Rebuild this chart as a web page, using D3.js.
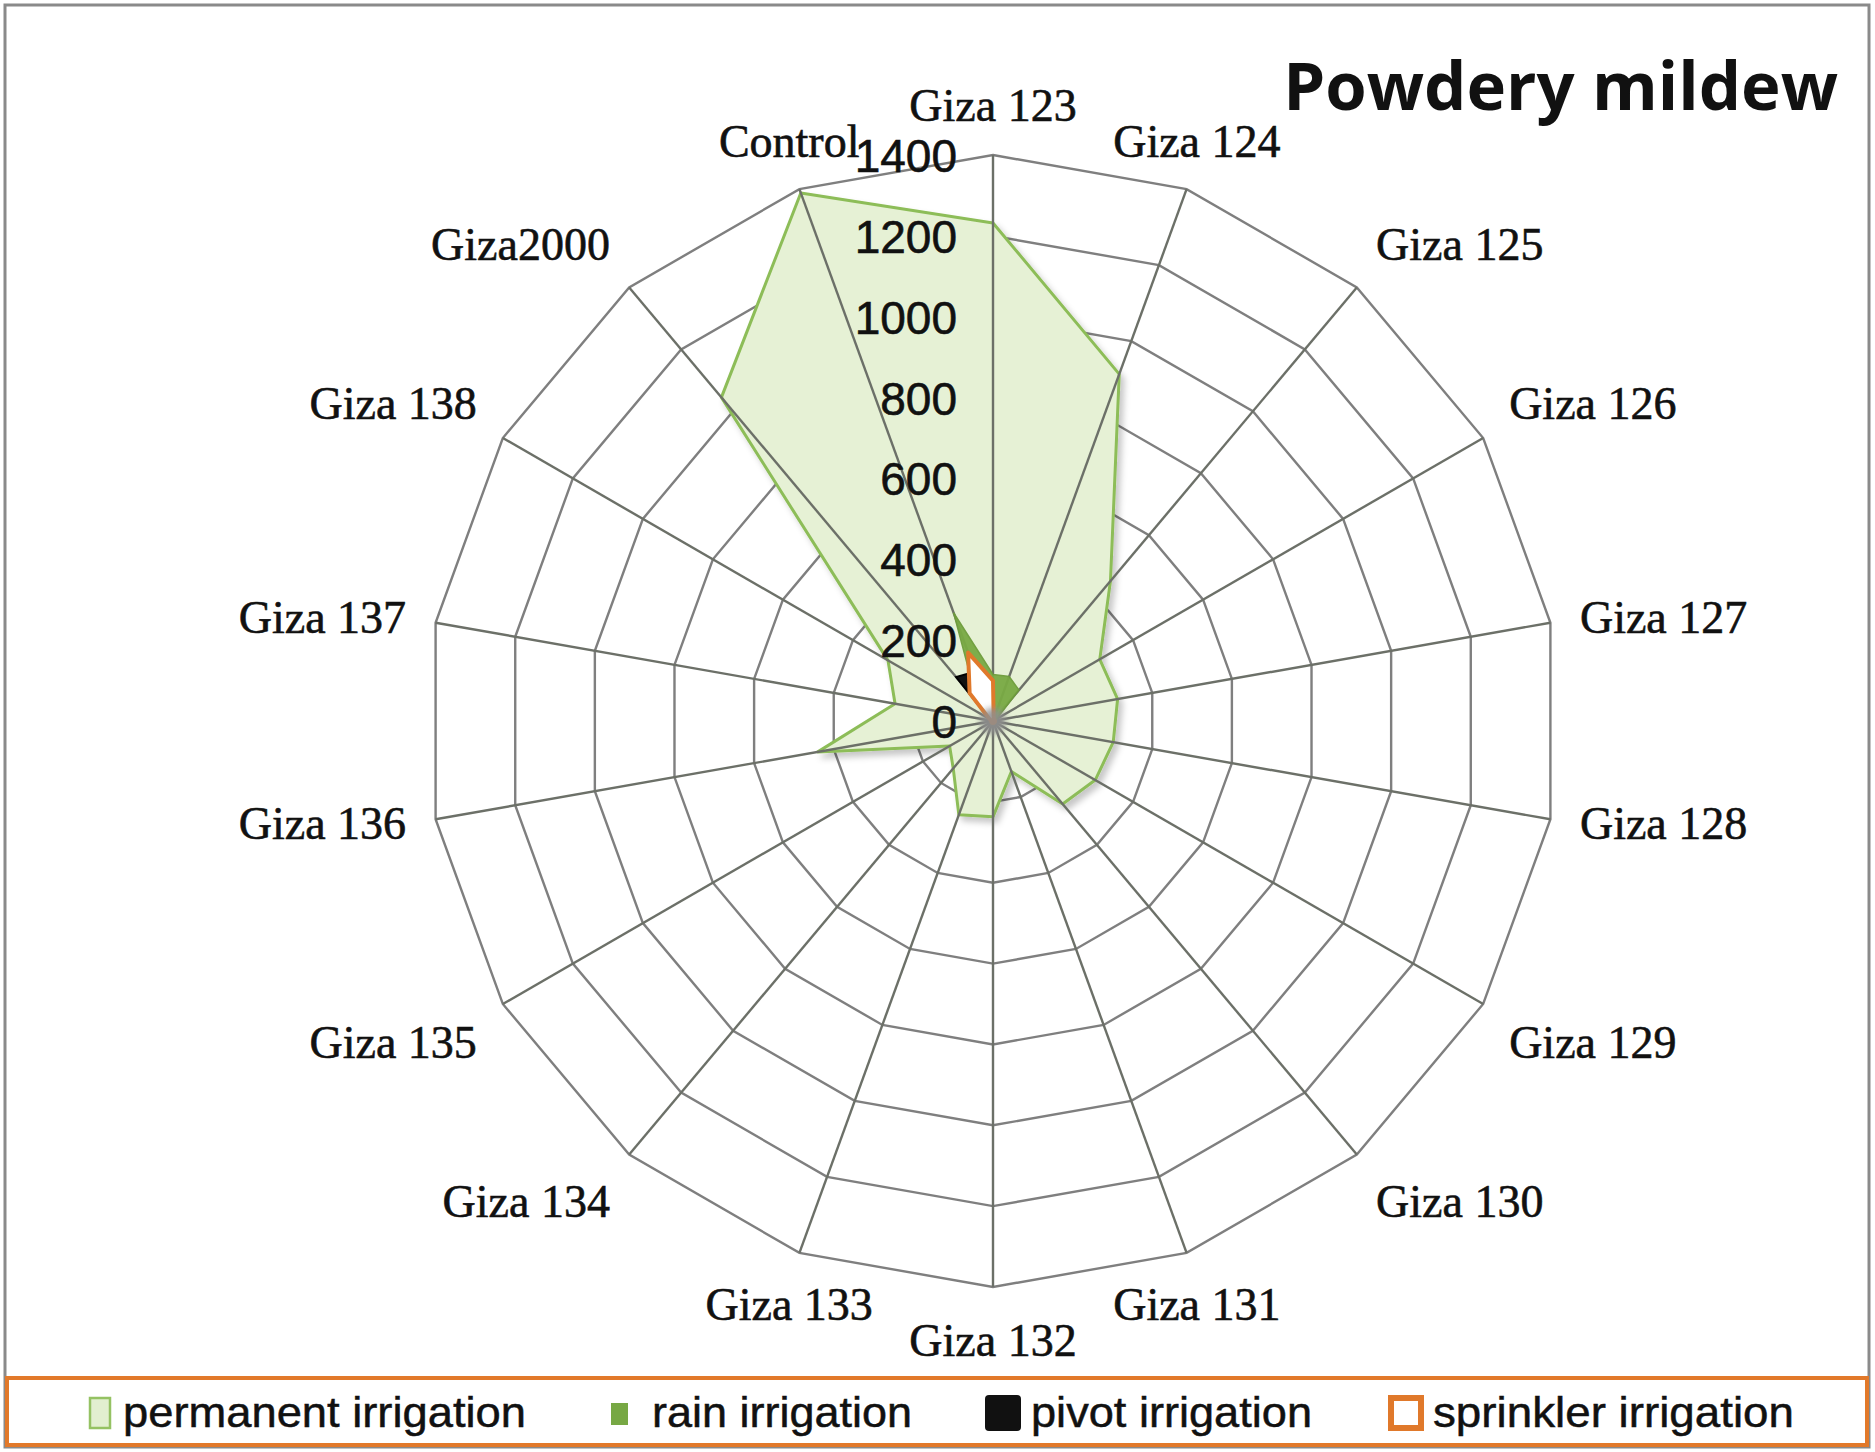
<!DOCTYPE html>
<html>
<head>
<meta charset="utf-8">
<script src="https://cdn.jsdelivr.net/npm/d3@7/dist/d3.min.js"></script>
<style>
  html, body { margin: 0; padding: 0; background: #ffffff; }
  svg { display: block; }
</style>
</head>
<body>
<svg id="chart" width="1875" height="1452"></svg>
<script>
// ---------------- data ----------------
const categories = ["Giza 123","Giza 124","Giza 125","Giza 126","Giza 127","Giza 128","Giza 129","Giza 130","Giza 131","Giza 132","Giza 133","Giza 134","Giza 135","Giza 136","Giza 137","Giza 138","Giza2000","Control"];
const permanentIrrigation = [1232, 913, 452, 305, 313, 302, 292, 268, 133, 237, 247, 153, 124, 440, 246, 300, 1045, 1390];
const rainIrrigation      = [115, 117, 100, 10, 8, 8, 8, 8, 8, 8, 8, 8, 8, 8, 8, 10, 60, 285];
const pivotIrrigation     = [60, 5, 5, 5, 5, 5, 5, 5, 5, 5, 5, 5, 5, 5, 5, 10, 142, 130];
const sprinklerIrrigation = [100, 5, 5, 5, 5, 5, 5, 5, 5, 5, 5, 5, 5, 5, 5, 10, 90, 180];
const valueTicks = [0, 200, 400, 600, 800, 1000, 1200, 1400];
const seriesNames = ["permanent irrigation", "rain irrigation", "pivot irrigation", "sprinkler irrigation"];
const chartTitle = "Powdery mildew";

// ---------------- layout ----------------
const W = 1875, H = 1452;
const cx = 993, cy = 721, R = 566;
const svg = d3.select("#chart");
const n = categories.length;
const angle = d3.scaleLinear().domain([0, n]).range([0, 2 * Math.PI]);
const r = d3.scaleLinear().domain([0, 1400]).range([0, R]);

const defs = svg.append("defs");
const grad = defs.append("radialGradient").attr("id", "permGrad")
  .attr("gradientUnits", "userSpaceOnUse").attr("cx", cx).attr("cy", cy).attr("r", R);
grad.append("stop").attr("offset", "0%").attr("stop-color", "#bcdc8f");
grad.append("stop").attr("offset", "35%").attr("stop-color", "#d3e9b5");
grad.append("stop").attr("offset", "100%").attr("stop-color", "#e6f1d5");
const sh = defs.append("filter").attr("id", "shadow").attr("x", "-10%").attr("y", "-10%").attr("width", "130%").attr("height", "130%");
sh.append("feDropShadow").attr("dx", 4).attr("dy", 5).attr("stdDeviation", 3)
  .attr("flood-color", "#000").attr("flood-opacity", 0.22);
const bl = defs.append("filter").attr("id", "blur").attr("x", "-50%").attr("y", "-50%").attr("width", "200%").attr("height", "200%");
bl.append("feGaussianBlur").attr("stdDeviation", 3);

// frame
svg.append("rect").attr("x", 5).attr("y", 5).attr("width", W - 11).attr("height", H - 10)
  .attr("fill", "#fff").attr("stroke", "#8a8a8a").attr("stroke-width", 3);

const g = svg.append("g").attr("transform", `translate(${cx},${cy})`);

const radial = d3.lineRadial()
  .angle((d, i) => angle(i))
  .radius(d => r(d))
  .curve(d3.curveLinearClosed);

// rings
g.selectAll("path.ring").data(valueTicks.filter(v => v > 0)).join("path")
  .attr("class", "ring")
  .attr("d", v => radial(categories.map(() => v)))
  .attr("fill", "none").attr("stroke", "#7f7f7f").attr("stroke-width", 2.4);

// permanent irrigation
g.append("path").attr("d", radial(permanentIrrigation))
  .attr("fill", "url(#permGrad)").attr("stroke", "#8dbd58").attr("stroke-width", 3)
  .attr("stroke-linejoin", "round").attr("filter", "url(#shadow)");

// spokes
g.selectAll("line.spoke").data(categories).join("line")
  .attr("class", "spoke")
  .attr("x1", 0).attr("y1", 0)
  .attr("x2", (d, i) => r(1400) * Math.sin(angle(i)))
  .attr("y2", (d, i) => -r(1400) * Math.cos(angle(i)))
  .attr("stroke", "#6c7068").attr("stroke-width", 2.4);

// rain
g.append("path").attr("d", radial(rainIrrigation))
  .attr("fill", "#79aa44").attr("stroke", "#6d9c3b").attr("stroke-width", 1.5).attr("opacity", 0.95);
// pivot
g.append("path").attr("d", radial(pivotIrrigation))
  .attr("fill", "#111").attr("stroke", "#000").attr("stroke-width", 2);
// sprinkler
g.append("path").attr("d", radial(sprinklerIrrigation))
  .attr("fill", "#ffffff").attr("stroke", "#e0792b").attr("stroke-width", 4).attr("stroke-linejoin", "round");

// center blob
g.append("circle").attr("r", 13).attr("fill", "#8f8f8f").attr("opacity", 0.85).attr("filter", "url(#blur)");

// value axis labels
const yAxisScale = d3.scaleLinear().domain([0, 1400]).range([0, -R]);
const axisG = g.append("g")
  .call(d3.axisLeft(yAxisScale).tickValues(valueTicks).tickSize(0).tickPadding(36).tickFormat(d3.format("d")));
axisG.select(".domain").remove();
axisG.selectAll("text").attr("font-family", "Liberation Sans, Arial, sans-serif")
  .attr("font-size", 46).attr("fill", "#111").attr("stroke", "#111").attr("stroke-width", 0.6)
  .attr("dy", "0.36em");

// category labels
const gap = 30;
g.selectAll("text.cat").data(categories).join("text")
  .attr("class", "cat")
  .each(function(d, i) {
    const a = angle(i);
    const s = Math.sin(a), c = Math.cos(a);
    const px = (R + gap) * s, py = -(R + gap) * c;
    const anchor = Math.abs(s) < 0.5 ? "middle" : (s > 0 ? "start" : "end");
    let by;
    if (Math.abs(c) < 0.3) by = py + 15;
    else if (c > 0) by = py - 4;
    else by = py + 39;
    d3.select(this).attr("x", px).attr("y", by).attr("text-anchor", anchor).text(d);
  })
  .attr("font-family", "Liberation Serif, Times New Roman, serif")
  .attr("font-size", 46).attr("fill", "#111").attr("stroke", "#111").attr("stroke-width", 0.6);

// title
svg.append("text").attr("x", 1838).attr("y", 110).attr("text-anchor", "end")
  .attr("font-family", "Open Sans, sans-serif").attr("font-weight", "bold")
  .attr("font-size", 67).attr("fill", "#111").text(chartTitle);

// legend
const lg = svg.append("g");
lg.append("rect").attr("x", 7).attr("y", 1378).attr("width", W - 15).attr("height", 67)
  .attr("fill", "#fff").attr("stroke", "#e2792a").attr("stroke-width", 4);
const legendItems = [
  { name: seriesNames[0], sx: 90, tx: 123, tw: 403, fill: "#e2efd0", stroke: "#95c263", sw: 2.5, swW: 20, swH: 30, sy: 1398 },
  { name: seriesNames[1], sx: 611, tx: 652, tw: 260, fill: "#77a844", stroke: "#77a844", sw: 0, swW: 17, swH: 22, sy: 1403 },
  { name: seriesNames[2], sx: 985, tx: 1031, tw: 281, fill: "#111", stroke: "#111", sw: 0, swW: 36, swH: 36, sy: 1395 },
  { name: seriesNames[3], sx: 1391, tx: 1433, tw: 361, fill: "#fff", stroke: "#e0792b", sw: 6, swW: 30, swH: 30, sy: 1398 }
];
legendItems.forEach(it => {
  lg.append("rect").attr("x", it.sx).attr("y", it.sy).attr("width", it.swW).attr("height", it.swH)
    .attr("rx", it.name === seriesNames[2] ? 4 : 0)
    .attr("fill", it.fill).attr("stroke", it.stroke).attr("stroke-width", it.sw);
  lg.append("text").attr("x", it.tx).attr("y", 1427)
    .attr("font-family", "Liberation Sans, Arial, sans-serif").attr("font-size", 43)
    .attr("textLength", it.tw).attr("lengthAdjust", "spacingAndGlyphs")
    .attr("fill", "#111").attr("stroke", "#111").attr("stroke-width", 0.5).text(it.name);
});
</script>
</body>
</html>
